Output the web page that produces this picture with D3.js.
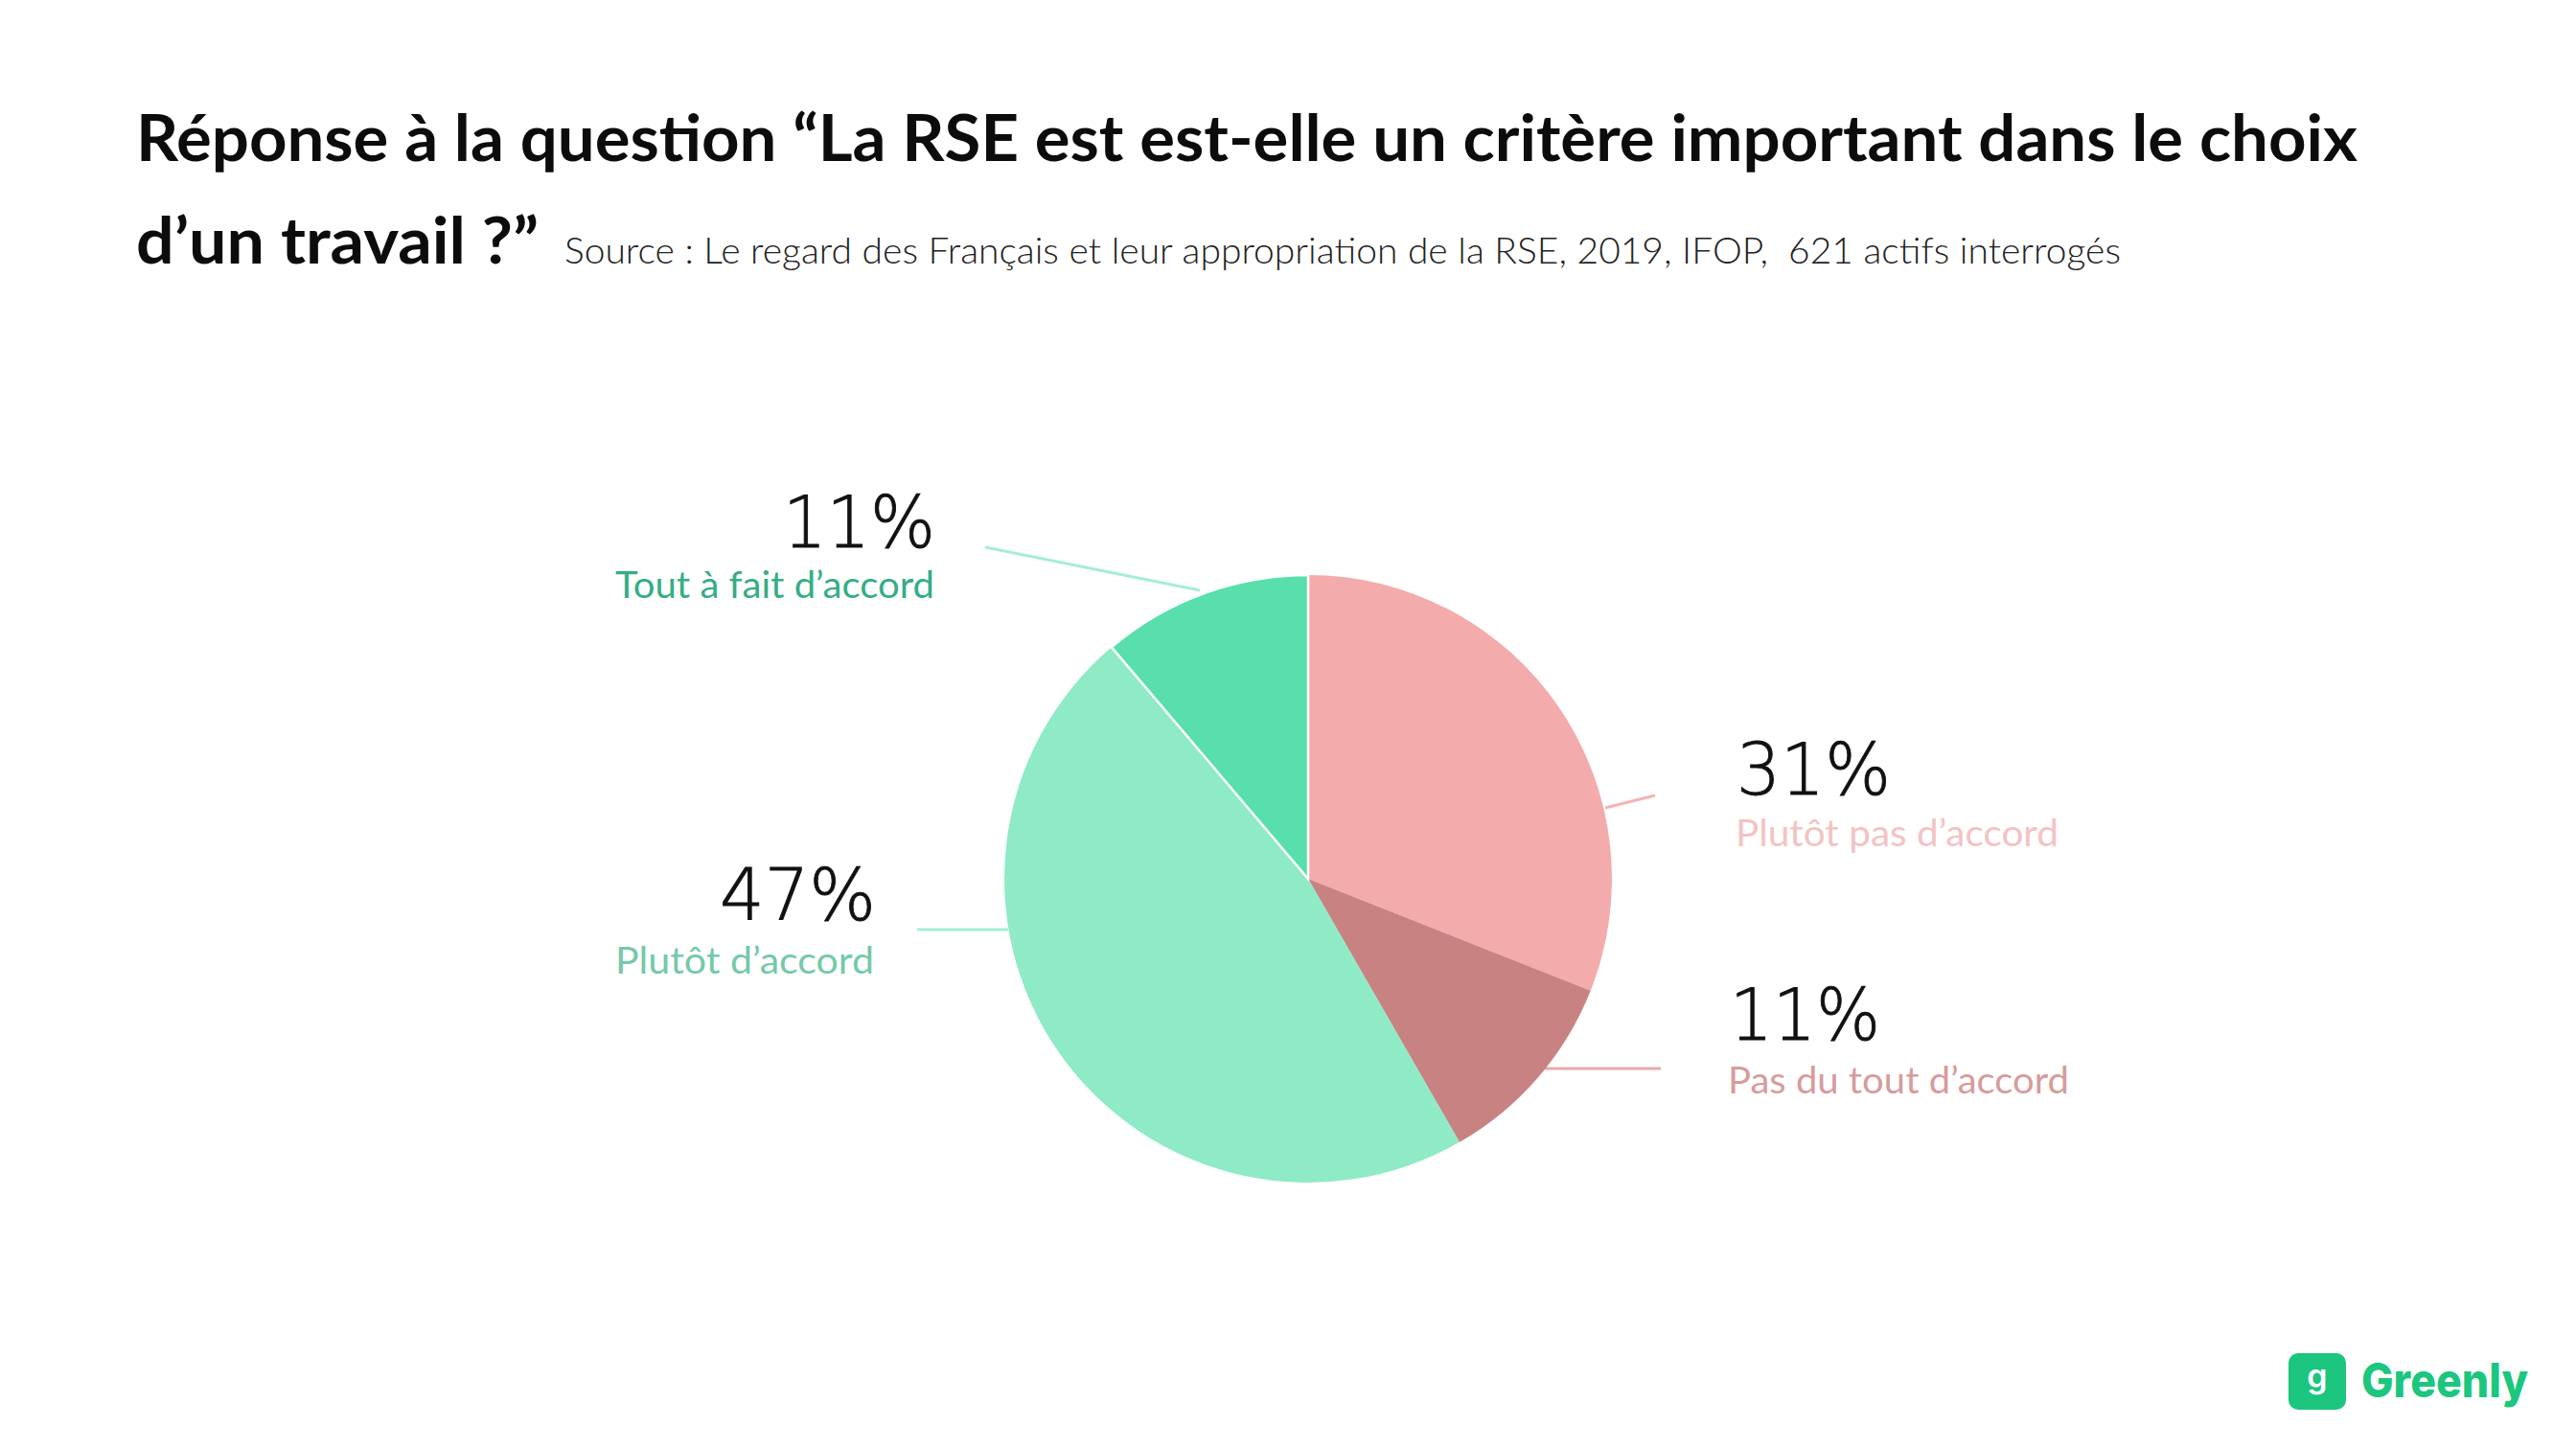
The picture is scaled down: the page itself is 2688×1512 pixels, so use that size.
<!DOCTYPE html>
<html lang="fr">
<head>
<meta charset="utf-8">
<title>RSE</title>
<script src="https://cdn.jsdelivr.net/npm/d3@7"></script>
<style>
  html, body { margin: 0; padding: 0; background: #fff; }
  svg { display: block; }
</style>
</head>
<body>
<script>
var categories = ["Plutôt pas d’accord", "Pas du tout d’accord", "Plutôt d’accord", "Tout à fait d’accord"];
var pctLabels = ["31%", "11%", "47%", "11%"];
// slice sizes as measured on the pie, the printed labels are rounded
var values = [31, 10.7, 47.1, 11.2];
var sliceColors = ["#f4abab", "#c98282", "#8feac6", "#58dfac"];
var labelColors = ["#f3c3c3", "#d69c9c", "#74c9a9", "#35ad86"];
var leaderColors = ["#f4b4b4", "#e3abab", "#a5eed2", "#a5eed2"];

// label placement, same order as categories: [x, width, baseline]
var pctPos = [[1812, 161, 829], [1805, 157, 1085], [751, 163, 960], [817, 159, 571]];
var catPos = [[1811, 337, 883], [1803, 356, 1141], [642, 270, 1016], [642, 333, 624]];
var leaders = [[1675, 843, 1727, 830], [1612, 1115, 1733, 1115], [957, 970, 1052, 970], [1028, 571, 1252, 616]];

var width = 2688, height = 1512;
var cx = 1365, cy = 917, radius = 317;
var uiFont = "Lato, 'Noto Sans', sans-serif";

var svg = d3.select("body").append("svg")
  .attr("width", width)
  .attr("height", height)
  .attr("viewBox", [0, 0, width, height]);

// text squeezed to the measured width
function putText(str, x, y, w, size, weight, fill, family) {
  return svg.append("text")
    .attr("x", x)
    .attr("y", y)
    .attr("textLength", w)
    .attr("lengthAdjust", "spacingAndGlyphs")
    .attr("font-family", family || uiFont)
    .attr("font-size", size)
    .attr("font-weight", weight)
    .attr("fill", fill)
    .text(str);
}

putText("Réponse à la question “La RSE est est-elle un critère important dans le choix", 142, 168, 2318, 66, 700, "#0c0c0c");
putText("d’un travail ?”", 142, 275, 420, 66, 700, "#0c0c0c");
putText("Source : Le regard des Français et leur appropriation de la RSE, 2019, IFOP,\u00a0 621 actifs interrogés", 589, 275, 1624, 38, 300, "#222");

// leader lines under the pie
svg.selectAll("line.leader")
  .data(leaders)
  .enter().append("line")
  .attr("class", "leader")
  .attr("x1", function(d) { return d[0]; })
  .attr("y1", function(d) { return d[1]; })
  .attr("x2", function(d) { return d[2]; })
  .attr("y2", function(d) { return d[3]; })
  .attr("stroke", function(d, i) { return leaderColors[i]; })
  .attr("stroke-width", 3);

var pie = d3.pie().sort(null).value(function(d) { return d; });
var arc = d3.arc().innerRadius(0).outerRadius(radius);

svg.append("g")
  .attr("transform", "translate(" + cx + "," + cy + ")")
  .selectAll("path")
  .data(pie(values))
  .enter().append("path")
  .attr("d", arc)
  .attr("fill", function(d, i) { return sliceColors[i]; })
  // only the last slice has the thin white edge
  .attr("stroke", function(d, i) { return i === 3 ? "#fff" : "none"; })
  .attr("stroke-width", 2.5);

categories.forEach(function(c, i) {
  putText(pctLabels[i], pctPos[i][0], pctPos[i][2], pctPos[i][1], 74, 200, "#111", "'DejaVu Sans', sans-serif")
    .attr("stroke", "#111")
    .attr("stroke-width", 0.9);
  putText(c, catPos[i][0], catPos[i][2], catPos[i][1], 39, 400, labelColors[i]);
});

// logo
svg.append("rect")
  .attr("x", 2388).attr("y", 1412)
  .attr("width", 60).attr("height", 59)
  .attr("rx", 10)
  .attr("fill", "#1cc67f");
svg.append("text")
  .attr("x", 2418).attr("y", 1448)
  .attr("text-anchor", "middle")
  .attr("font-family", "Inter, sans-serif")
  .attr("font-size", 34)
  .attr("font-weight", 600)
  .attr("fill", "#fff")
  .text("g");
putText("Greenly", 2464, 1458, 174, 50, 800, "#1cc67f", "Inter, sans-serif");
</script>
</body>
</html>
